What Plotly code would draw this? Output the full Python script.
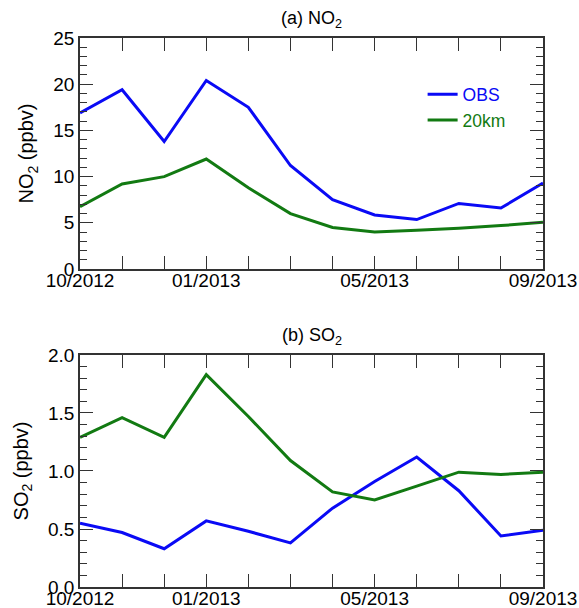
import plotly.graph_objects as go
from plotly.subplots import make_subplots

months = ["10/2012", "11/2012", "12/2012", "01/2013", "02/2013", "03/2013",
          "04/2013", "05/2013", "06/2013", "07/2013", "08/2013", "09/2013"]
tick_labels = ["10/2012", "", "", "01/2013", "", "", "", "05/2013", "", "", "", "09/2013"]

no2_obs = [16.9, 19.4, 13.8, 20.4, 17.5, 11.2, 7.5, 5.85, 5.35, 7.1, 6.6, 9.3]
no2_20km = [6.75, 9.2, 10.0, 11.9, 8.8, 6.0, 4.5, 4.0, 4.2, 4.4, 4.7, 5.05]
so2_obs = [0.55, 0.47, 0.33, 0.57, 0.48, 0.38, 0.68, 0.91, 1.12, 0.83, 0.44, 0.49]
so2_20km = [1.29, 1.46, 1.29, 1.83, 1.47, 1.09, 0.82, 0.75, 0.87, 0.99, 0.97, 0.99]

BLUE = "#0a0af5"
GREEN = "#127a12"
AX = "#333333"
FONT = "Liberation Sans, Arial, Helvetica, sans-serif"

x = list(range(len(months)))

fig = make_subplots(rows=2, cols=1, vertical_spacing=0.0)

fig.add_trace(go.Scatter(x=x, y=no2_obs, mode="lines",
                         name="<span style='color:%s'>OBS</span>" % BLUE,
                         line=dict(color=BLUE, width=3)), row=1, col=1)
fig.add_trace(go.Scatter(x=x, y=no2_20km, mode="lines",
                         name="<span style='color:%s'>20km</span>" % GREEN,
                         line=dict(color=GREEN, width=3)), row=1, col=1)
fig.add_trace(go.Scatter(x=x, y=so2_obs, mode="lines", showlegend=False,
                         line=dict(color=BLUE, width=3)), row=2, col=1)
fig.add_trace(go.Scatter(x=x, y=so2_20km, mode="lines", showlegend=False,
                         line=dict(color=GREEN, width=3)), row=2, col=1)

xcommon = dict(range=[0, 11], tickmode="array", tickvals=x, ticktext=tick_labels,
               ticks="inside", ticklen=13, tickwidth=1.3, tickcolor=AX,
               showline=True, linecolor=AX, linewidth=1.5, mirror="allticks",
               showgrid=False, zeroline=False, ticklabelstandoff=-7,
               tickfont=dict(size=19, color="black", family=FONT))
fig.update_xaxes(**xcommon, domain=[0, 1], row=1, col=1)
fig.update_xaxes(**xcommon, domain=[0, 1], row=2, col=1)

ycommon = dict(ticks="inside", ticklen=13, tickwidth=1.3, tickcolor=AX,
               showline=True, linecolor=AX, linewidth=1.5, mirror="allticks",
               showgrid=False, zeroline=False,
               tickfont=dict(size=19, color="black", family=FONT))
fig.update_yaxes(**ycommon, range=[0, 25], tickmode="linear", tick0=0, dtick=5,
                 domain=[0.5792, 1.0],
                 minor=dict(dtick=1, ticks="inside", ticklen=7, tickcolor=AX, tickwidth=1.3),
                 title=dict(text="NO<sub>2</sub> (ppbv)", font=dict(size=20, family=FONT, color="black"),
                            standoff=14),
                 row=1, col=1)
fig.update_yaxes(**ycommon, range=[0, 2.0], tickmode="linear", tick0=0, dtick=0.5,
                 tickformat=".1f", domain=[0.0, 0.4226],
                 minor=dict(dtick=0.1, ticks="inside", ticklen=7, tickcolor=AX, tickwidth=1.3),
                 title=dict(text="SO<sub>2</sub> (ppbv)", font=dict(size=20, family=FONT, color="black"),
                            standoff=14),
                 row=2, col=1)

fig.add_annotation(text="(a) NO<sub>2</sub>", xref="paper", yref="paper", x=0.5, y=1.0,
                   yshift=5, xanchor="center", yanchor="bottom", showarrow=False,
                   font=dict(size=18, family=FONT, color="black"))
fig.add_annotation(text="(b) SO<sub>2</sub>", xref="paper", yref="paper", x=0.5, y=0.4226,
                   yshift=5, xanchor="center", yanchor="bottom", showarrow=False,
                   font=dict(size=18, family=FONT, color="black"))

fig.update_layout(
    template="none",
    width=579, height=608,
    margin=dict(l=80, r=36, t=38, b=21),
    paper_bgcolor="white", plot_bgcolor="white",
    font=dict(family=FONT, size=19, color="black"),
    showlegend=True,
    legend=dict(x=0.74, y=0.93, xanchor="left", yanchor="top",
                bgcolor="rgba(0,0,0,0)", font=dict(size=17.5, family=FONT),
                itemwidth=30, tracegroupgap=0),
)

fig.write_html("out.html")
